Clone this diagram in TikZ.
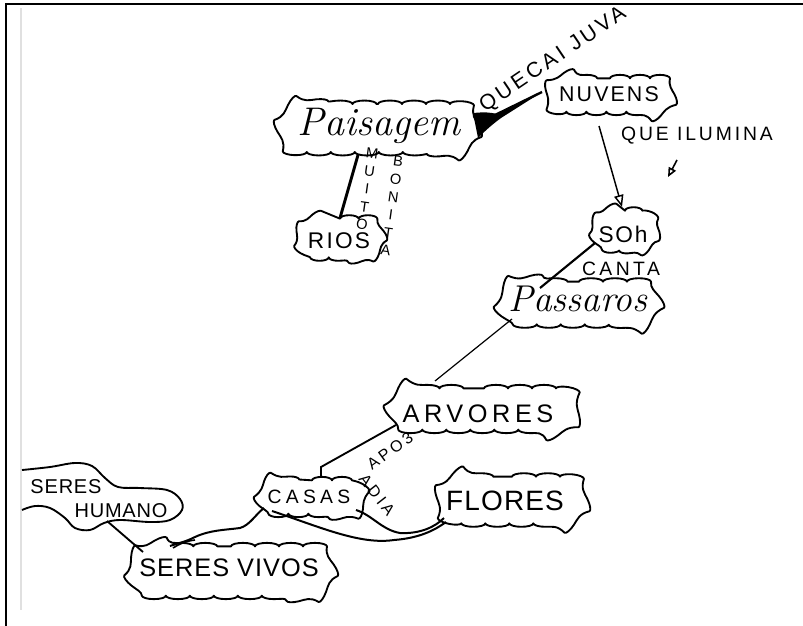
\documentclass[tikz,border=0pt]{standalone}
\usepackage{fontspec}
\usetikzlibrary{shapes.misc,arrows.meta,calc,decorations.pathmorphing}
\newfontfamily\hand{Liberation Sans}
\newcommand\hw[3]{{\fontsize{#1}{#1}\selectfont\hand\addfontfeatures{LetterSpace=#2}#3}}
\newcommand\cw[2]{{\fontsize{#1}{#1}\selectfont\rmfamily\itshape #2}}
\begin{document}
\begin{tikzpicture}[x=0.75pt,y=-0.75pt,
  blob/.style={rounded rectangle, draw, line width=1.4pt, inner sep=0pt, line join=round,
     decorate, decoration={bumps, segment length=#1, amplitude=2.6pt}},
  blob/.default=36pt,
  txt/.style={anchor=base, inner sep=0pt},
  lbl/.style={inner sep=0pt},
  stack/.style={inner sep=0pt, align=center, font=\fontsize{11}{13.5}\selectfont\hand},
  link/.style={line width=1.4pt},
]
\useasboundingbox (0,0) rectangle (803,625);
\fill[white] (0,0) rectangle (803,625);
% frame
\draw[line width=1.7pt] (6,626) -- (6,4) -- (804,4);
\draw[black!12, line width=1pt] (21,8) -- (21,610);

% clouds
\node[blob, minimum width=142pt, minimum height=36pt] (pai) at (378,128) {};
\node[blob=30pt, minimum width=88pt, minimum height=25pt] (nuv) at (610,95) {};
\node[blob=28pt, minimum width=59pt, minimum height=29pt] (rio) at (340,238) {};
\node[blob=26pt, minimum width=44pt, minimum height=29pt] (sol) at (625,230) {};
\node[blob, minimum width=112pt, minimum height=32pt] (pas) at (579,303) {};
\node[blob, minimum width=134pt, minimum height=31pt] (arv) at (484,409) {};
\node[blob=30pt, minimum width=73pt, minimum height=25pt] (cas) at (312,497) {};
\node[blob, minimum width=104pt, minimum height=35pt] (flo) at (512,500) {};
\node[blob, minimum width=146pt, minimum height=37pt] (viv) at (231,571) {};

% seres humano blob (cut by the left edge)
\coordinate (humC) at (101,497);
\draw[line width=1.4pt, line join=round] plot[smooth, tension=0.6] coordinates {
 (22,470) (50,467) (75,463) (92,466) (105,478) (118,487) (140,488) (167,490)
 (180,499) (182,510) (170,520) (150,522) (120,520) (104,523) (90,530) (75,528)
 (65,518) (50,508) (35,506) (22,510)};

% texts in the clouds
\node[txt] (paiT) at (379,135) {\cw{30}{Paisagem}};
\node[txt] (nuvT) at (609,101) {\hw{16}{10}{NUVENS}};
\node[txt] (rioT) at (339,248) {\hw{17}{10}{RIOS}};
\node[txt] (solT) at (623,242) {\hw{17}{8}{SOh}};
\node[txt] (pasT) at (578,311) {\cw{28}{Passaros}};
\node[txt] (arvT) at (478,422) {\hw{19}{18}{ARVORES}};
\node[txt] (casT) at (309,503) {\hw{14.5}{22}{CASAS}};
\node[txt] (floT) at (505,510) {\hw{21}{4}{FLORES}};
\node[txt] (humS) at (66,493) {\hw{15}{4}{SERES}};
\node[txt] (hum) at (121,517) {\hw{15}{4}{HUMANO}};
\node[txt] (vivT) at (229,576) {\hw{19}{4}{SERES VIVOS}};

% connectors
% Paisagem -> Nuvens (wedge)
\fill ($(pai.center)+(95,-15)$) .. controls ($(pai.center)+(108,-16)$) .. ($(pai.center)+(120,-14)$)
  -- ($(nuv.center)+(-68,-3)$) -- ($(pai.center)+(123,-10)$)
  .. controls ($(pai.center)+(112,-2)$) and ($(pai.center)+(104,6)$) .. ($(pai.center)+(100,10)$) -- cycle;
\draw[line width=1.8pt] ($(pai.center)+(115,-12)$) -- ($(nuv.center)+(-68,-3)$);
\node[lbl, rotate=34] (quecai) at (553,60) {\hw{16}{16}{QUECAI JUVA}};

% Nuvens -> Sol
\draw[line width=1.1pt, -{Triangle[open, length=9pt, width=7pt]}] ($(nuv.center)+(-11,31)$) -- ($(sol.center)+(-3,-23)$);
\node[txt] (ilu) at (697,140) {\hw{14.5}{15}{QUE ILUMINA}};
\coordinate (m1) at (677,160);
\coordinate (m2) at (668,177);
\draw[line width=1.2pt, -{Triangle[open, length=7pt, width=6pt]}] (m1) -- (m2);

% Paisagem -> Rios
\draw[line width=2.2pt] ($(pai.center)+(-20,27)$) -- ($(rio.center)+(0,-20)$);
\node[stack, rotate=-8] (muito) at (367,189) {M\\U\\I\\T\\O};
\node[stack, rotate=-8] (bonita) at (392,206) {B\\O\\N\\I\\T\\A};

% Sol -> Passaros
\draw[line width=1.6pt] ($(sol.center)+(-30,13)$) -- ($(pas.center)+(-39,-15)$);
\node[txt] (canta) at (621,275) {\hw{14.5}{18}{CANTA}};

% Passaros -> Arvores
\draw[line width=0.9pt] ($(pas.center)+(-67,16)$) -- ($(arv.center)+(-49,-28)$);

% Arvores -> Casas
\draw[link] ($(arv.center)+(-88,16)$) -- ($(cas.center)+(9,-30)$) -- ($(cas.center)+(9,-20)$);
\node[lbl, rotate=36] (apo) at (390,451) {\hw{12}{20}{APO3}};
\node[lbl, rotate=-52] (adia) at (377,495) {\hw{12}{20}{ADIA}};

% Casas -> Flores (double curve)
\draw[line width=1.5pt] ($(cas.center)+(-40,14)$) .. controls ($(cas.center)+(8,30)$) and ($(cas.center)+(48,48)$) .. ($(flo.center)+(-118,40)$)
   .. controls ($(flo.center)+(-92,38)$) and ($(flo.center)+(-77,30)$) .. ($(flo.center)+(-66,22)$);
\draw[line width=1.5pt] ($(cas.center)+(44,13)$) .. controls ($(cas.center)+(60,18)$) and ($(cas.center)+(70,33)$) .. ($(flo.center)+(-112,33)$)
   .. controls ($(flo.center)+(-92,34)$) and ($(flo.center)+(-77,27)$) .. ($(flo.center)+(-68,18)$);

% Casas -> Seres vivos (wavy)
\draw[line width=1.5pt] ($(cas.center)+(-48,11)$) .. controls ($(cas.center)+(-57,18)$) and ($(cas.center)+(-62,28)$) .. ($(cas.center)+(-72,31)$)
   .. controls ($(cas.center)+(-87,33)$) and ($(cas.center)+(-102,33)$) .. ($(cas.center)+(-117,40)$)
   .. controls ($(cas.center)+(-127,45)$) and ($(viv.center)+(-52,-28)$) .. ($(viv.center)+(-61,-25)$);
\draw[line width=1.2pt] ($(viv.center)+(-36,-31)$) .. controls ($(viv.center)+(-45,-30)$) and ($(viv.center)+(-52,-27)$) .. ($(viv.center)+(-58,-23)$);

% Seres humano -> Seres vivos
\draw[link] ($(humC)+(6,24)$) -- ($(viv.center)+(-88,-19)$);
\end{tikzpicture}
\end{document}
